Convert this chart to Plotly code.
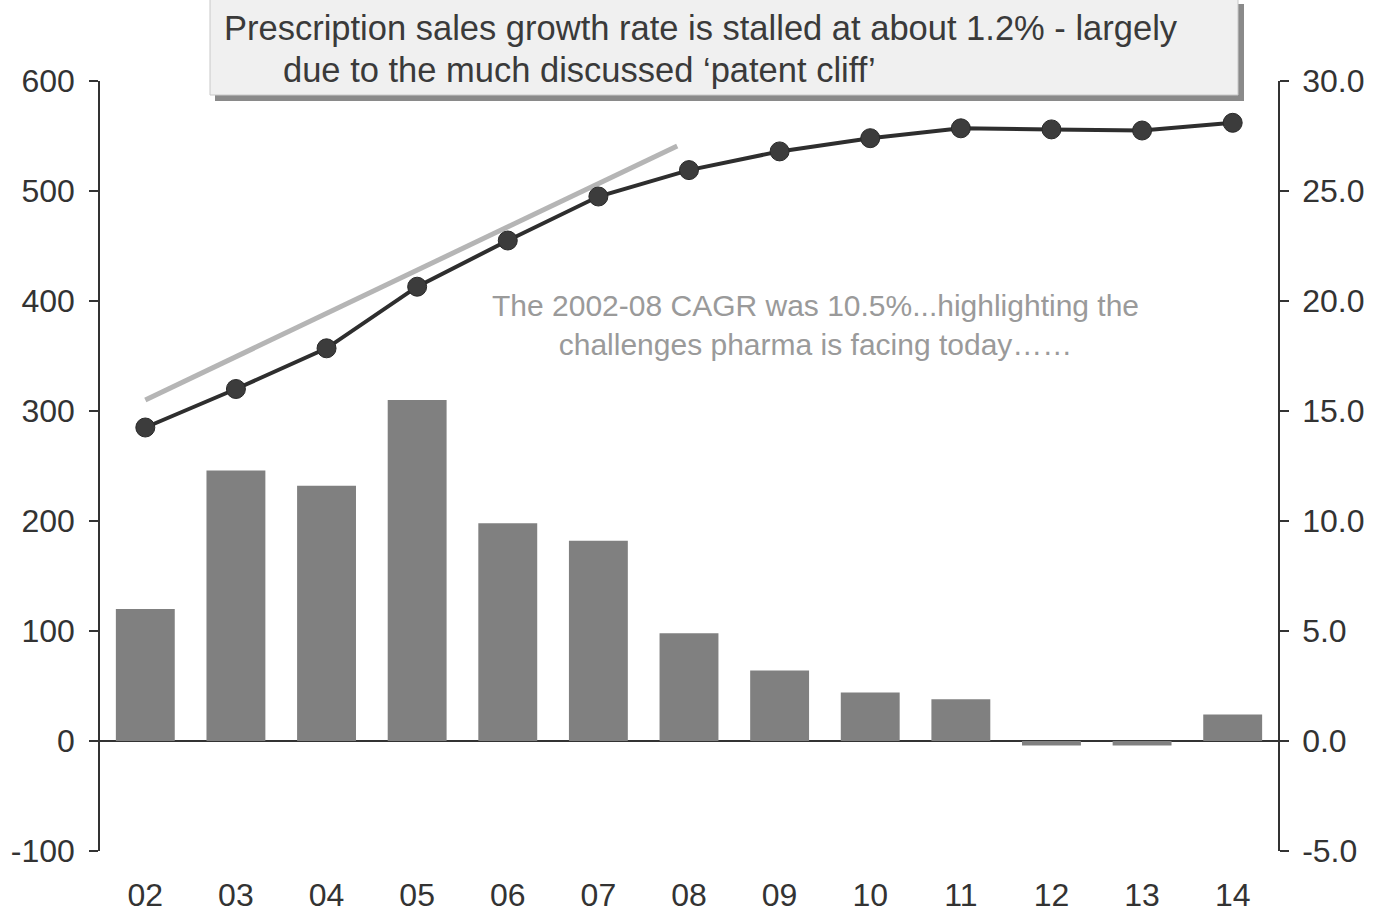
import plotly.graph_objects as go

# Years shown on the category axis and their tick labels
years = [2002, 2003, 2004, 2005, 2006, 2007, 2008, 2009, 2010, 2011, 2012, 2013, 2014]
year_labels = ["02", "03", "04", "05", "06", "07", "08", "09", "10", "11", "12", "13", "14"]

# Prescription sales (left axis) and annual growth rate in % (right axis)
sales = [285, 320, 357, 413, 455, 495, 519, 536, 548, 557, 556, 555, 562]
growth_pct = [6.0, 12.3, 11.6, 15.5, 9.9, 9.1, 4.9, 3.2, 2.2, 1.9, -0.2, -0.2, 1.2]

# 2002-08 CAGR trend line endpoints
trend_x = [2002.0, 2007.87]
trend_y = [310, 541]

# Axis ticks
left_ticks = [-100, 0, 100, 200, 300, 400, 500, 600]
left_tick_text = ["-100", "0", "100", "200", "300", "400", "500", "600"]
right_ticks = [-5, 0, 5, 10, 15, 20, 25, 30]
right_tick_text = ["-5.0", "0.0", "5.0", "10.0", "15.0", "20.0", "25.0", "30.0"]

FONT = "Arial, Liberation Sans, Helvetica, sans-serif"
W, H = 1374, 916
L, R, T, B = 100, 96, 81, 65
PW, PH = W - L - R, H - T - B


def px(x):
    return (x - L) / PW


def py(y):
    return (H - B - y) / PH


fig = go.Figure()

fig.add_trace(go.Bar(
    x=years, y=growth_pct, yaxis="y2",
    marker=dict(color="#808080", line=dict(width=0)),
    width=0.65, showlegend=False,
))

fig.add_trace(go.Scatter(
    x=trend_x, y=trend_y, mode="lines",
    line=dict(color="#b5b5b5", width=5),
    showlegend=False,
))

fig.add_trace(go.Scatter(
    x=years, y=sales, mode="lines+markers",
    line=dict(color="#2e2e2e", width=4),
    marker=dict(size=19, color="#3c3c3c", line=dict(color="#2a2a2a", width=1)),
    showlegend=False,
))

shapes = [
    # headline box shadow and box
    dict(type="rect", xref="paper", yref="paper",
         x0=px(215), x1=px(1244), y0=py(101), y1=py(4),
         fillcolor="#8a8a8a", line=dict(width=0), layer="above"),
    dict(type="rect", xref="paper", yref="paper",
         x0=px(210), x1=px(1238), y0=py(95), y1=py(-2),
         fillcolor="#f0f0f0", line=dict(color="#c8c8c8", width=1), layer="above"),
]

annotations = [
    dict(text="Prescription sales growth rate is stalled at about 1.2% - largely",
         xref="paper", yref="paper", x=px(222), y=py(28), xanchor="left", yanchor="middle",
         showarrow=False, font=dict(family=FONT, size=34.5, color="#3a3a3a")),
    dict(text="due to the much discussed \u2018patent cliff\u2019",
         xref="paper", yref="paper", x=px(281), y=py(70), xanchor="left", yanchor="middle",
         showarrow=False, font=dict(family=FONT, size=34.5, color="#3a3a3a")),
    dict(text="The 2002-08 CAGR was 10.5%...highlighting the<br>challenges pharma is facing today\u2026\u2026",
         xref="paper", yref="paper", x=px(815), y=py(325), xanchor="center", yanchor="middle",
         showarrow=False, align="center",
         font=dict(family=FONT, size=30, color="#9a9a9a")),
]

fig.update_layout(
    width=W, height=H,
    margin=dict(l=L, r=R, t=T, b=B, pad=0, autoexpand=False),
    paper_bgcolor="white", plot_bgcolor="white",
    font=dict(family=FONT, color="#333333"),
    bargap=0.35,
    shapes=shapes,
    annotations=annotations,
    xaxis=dict(
        range=[2001.5, 2014.5], tickvals=years, ticktext=year_labels,
        showgrid=False, zeroline=False, showline=False, ticks="",
        tickfont=dict(size=32, color="#333333"), ticklabelstandoff=22,
        automargin=False,
    ),
    yaxis=dict(
        range=[-100, 600], tickvals=left_ticks, ticktext=left_tick_text,
        showgrid=False, zeroline=False, showline=True, linecolor="#333333", linewidth=1.5,
        ticks="outside", ticklen=9, tickwidth=1.5, tickcolor="#333333",
        tickfont=dict(size=32, color="#333333"), ticklabelstandoff=8,
        automargin=False,
    ),
    yaxis2=dict(
        range=[-5, 30], tickvals=right_ticks, ticktext=right_tick_text,
        overlaying="y", side="right",
        showgrid=False, zeroline=True, zerolinecolor="#333333", zerolinewidth=1.5,
        showline=True, linecolor="#333333", linewidth=1.5,
        ticks="outside", ticklen=9, tickwidth=1.5, tickcolor="#333333",
        tickfont=dict(size=32, color="#333333"), ticklabelstandoff=7,
        automargin=False,
    ),
)

fig.write_html("out.html")
